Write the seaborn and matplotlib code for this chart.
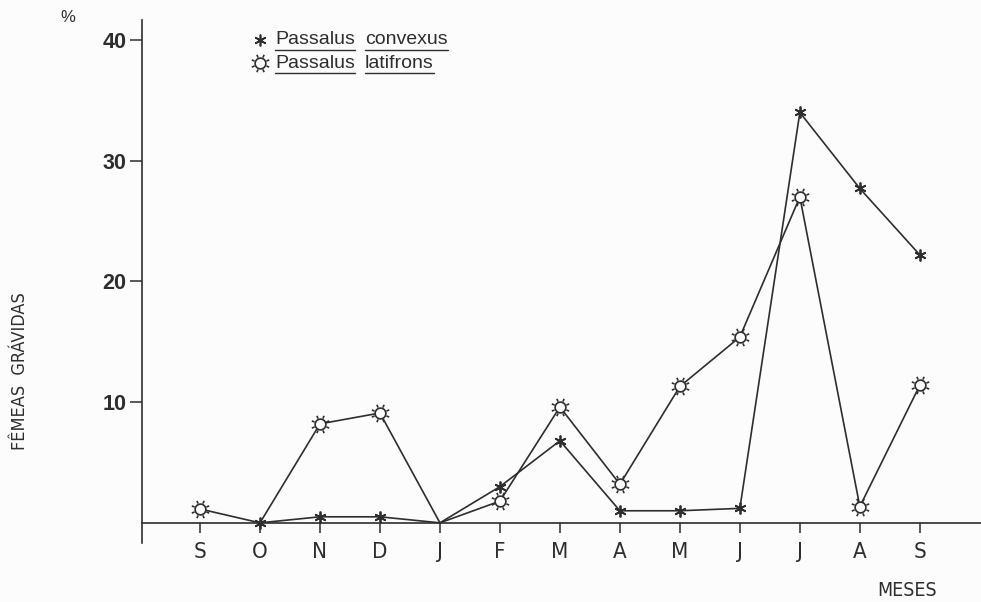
import numpy as np
import pandas as pd
import matplotlib
matplotlib.use("Agg")
import matplotlib.pyplot as plt
import matplotlib.path as mpath
from matplotlib.lines import Line2D
import seaborn as sns

# Months from September to September
months = ["S", "O", "N", "D", "J", "F", "M", "A", "M", "J", "J", "A", "S"]
convexus = [np.nan, 0.0, 0.5, 0.5, 0.0, 3.0, 6.8, 1.0, 1.0, 1.2, 34.0, 27.7, 22.2]
latifrons = [1.15, 0.0, 8.2, 9.1, 0.0, 1.8, 9.6, 3.2, 11.3, 15.4, 27.0, 1.35, 11.4]
yticks = [10, 20, 30, 40]

pos = np.arange(len(months))
df = pd.DataFrame({"pos": pos, "convexus": convexus, "latifrons": latifrons})

sns.set_style("ticks")
plt.rcParams["font.family"] = ["Liberation Sans", "DejaVu Sans"]

INK = "#2e2e2e"
BG = "#fcfcfc"
NARROW = dict(family="DejaVu Sans", fontstretch="condensed")

# sun-shaped marker: open circle with eight rays
circ = mpath.Path.unit_circle()
verts = list(circ.vertices)
codes = list(circ.codes)
for a in np.deg2rad(np.arange(0, 360, 45) + 22.5):
    verts += [(1.2 * np.cos(a), 1.2 * np.sin(a)), (1.75 * np.cos(a), 1.75 * np.sin(a))]
    codes += [mpath.Path.MOVETO, mpath.Path.LINETO]
sun = mpath.Path(np.array(verts), codes)
star = (6, 2, 0)

W, H = 981, 602
fig = plt.figure(figsize=(W / 100, H / 100), dpi=100, facecolor=BG)
ax = fig.add_axes([142 / W, (H - 543) / H, 1 - 142 / W, (543 - 20) / H])
ax.set_facecolor(BG)

# zero-valued months are drawn as plain line vertices
lat_marks = [i for i, v in enumerate(latifrons) if v > 0]
cvx = df.dropna().reset_index(drop=True)
cvx_marks = [i for i, v in enumerate(cvx["convexus"]) if not (v == 0 and i > 0)]

sns.lineplot(data=df, x="pos", y="latifrons", ax=ax, color=INK, lw=1.2,
             marker=sun, markersize=12.5, markerfacecolor=BG,
             markeredgecolor=INK, markeredgewidth=1.2, markevery=lat_marks,
             errorbar=None)
sns.lineplot(data=cvx, x="pos", y="convexus", ax=ax, color=INK, lw=1.2,
             marker=star, markersize=8.5, markeredgecolor=INK,
             markeredgewidth=1.3, markevery=cvx_marks, errorbar=None)

ax.set_xlim(-0.967, 13.02)
ax.set_ylim(-1.67, 41.66)
ax.set_xlabel("")
ax.set_ylabel("")

for s in ["top", "right"]:
    ax.spines[s].set_visible(False)
ax.spines["bottom"].set_position(("data", 0))
for s in ["left", "bottom"]:
    ax.spines[s].set_color(INK)
    ax.spines[s].set_linewidth(1.2)

ax.set_yticks(yticks)
ax.set_yticklabels([str(v) for v in yticks], fontsize=15.5, fontweight="bold",
                   color=INK)
ax.tick_params(axis="y", direction="out", length=9, width=1.1, pad=2,
               color=INK)

ax.set_xticks(pos)
ax.set_xticklabels(months, fontsize=16, color=INK, **NARROW)
ax.tick_params(axis="x", direction="out", length=7, width=1.1, pad=7,
               color=INK)

# axis captions
fig.text(68 / W, 1 - 18 / H, "%", fontsize=12, color=INK, ha="center",
         va="center")
fig.text(907 / W, 1 - 591 / H, "MESES", fontsize=14, color=INK, ha="center",
         va="center", **NARROW)
fig.text(20 / W, 1 - 371 / H, "FÊMEAS  GRÁVIDAS", fontsize=13, color=INK,
         ha="center", va="center", rotation=90, **NARROW)

# legend with underlined species names
rows = [(40, star, 8.5, INK, ["Passalus", "convexus"]),
        (63, sun, 12.5, BG, ["Passalus", "latifrons"])]
words = []
for yy, mk, ms, fc, names in rows:
    fig.add_artist(Line2D([260 / W], [1 - yy / H], marker=mk, markersize=ms,
                          markerfacecolor=fc, markeredgecolor=INK,
                          markeredgewidth=1.2, linestyle="none",
                          transform=fig.transFigure))
    for x0, name in zip([275, 365], names):
        t = fig.text(x0 / W, 1 - yy / H, name, fontsize=14, color=INK,
                     ha="left", va="center")
        words.append(t)

fig.canvas.draw()
r = fig.canvas.get_renderer()
for t in words:
    bb = t.get_window_extent(r)
    y = (bb.y0 - 1) / fig.bbox.height
    fig.add_artist(Line2D([bb.x0 / fig.bbox.width, bb.x1 / fig.bbox.width],
                          [y, y], color=INK, lw=1.0,
                          transform=fig.transFigure))

fig.savefig("out.png", dpi=100, facecolor=BG)
